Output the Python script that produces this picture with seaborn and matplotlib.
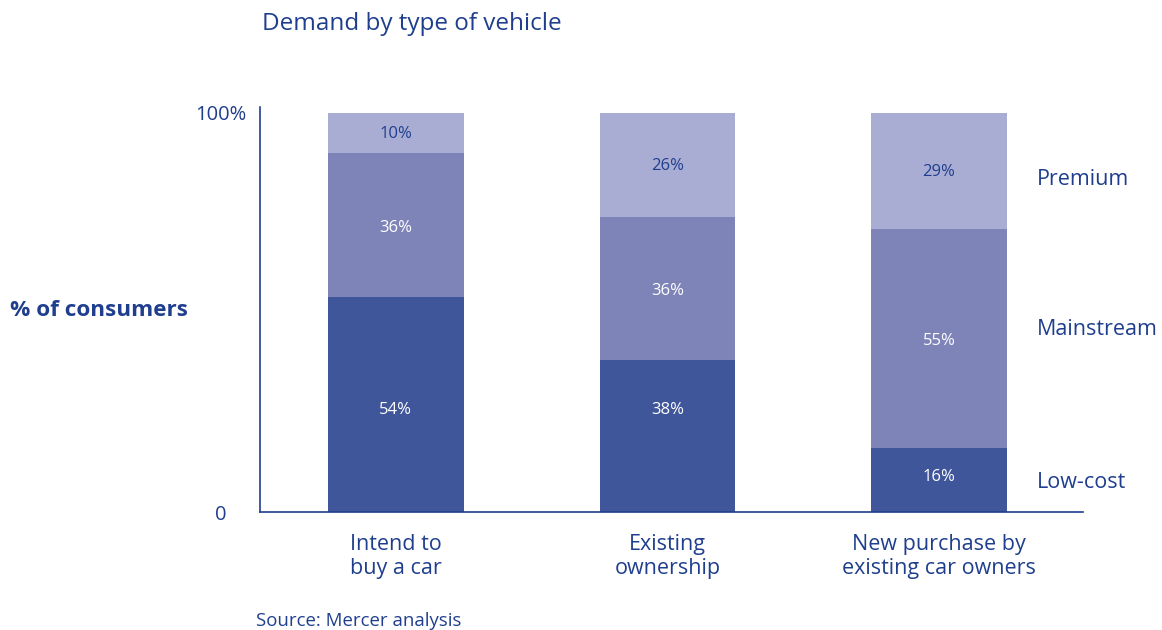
import matplotlib
matplotlib.use("Agg")
import matplotlib.pyplot as plt
import seaborn as sns
import pandas as pd
import numpy as np

# Data
categories = ["Intend to\nbuy a car", "Existing\nownership", "New purchase by\nexisting car owners"]
segments = ["Low-cost", "Mainstream", "Premium"]
low_cost = [54, 38, 16]
mainstream = [36, 36, 55]
premium = [10, 26, 29]
ytick_labels = ["0", "100%"]

TEXT = "#1F3F8E"
colors = {"Low-cost": "#3F569B", "Mainstream": "#7E84B8", "Premium": "#AAADD3"}

sns.set_theme(style="white")
plt.rcParams["font.family"] = ["Open Sans", "DejaVu Sans"]

df = pd.DataFrame({
    "category": categories,
    "Low-cost": low_cost,
    "Mainstream": mainstream,
    "Premium": premium,
})
# cumulative tops for stacking (draw tallest first, shorter layers on top)
df["top_low"] = df["Low-cost"]
df["top_mid"] = df["Low-cost"] + df["Mainstream"]
df["top_prem"] = df["top_mid"] + df["Premium"]

fig = plt.figure(figsize=(11.62, 6.30), dpi=100)
ax = fig.add_axes([260 / 1162, 1 - 512 / 630, (1083 - 260) / 1162, (512 - 107) / 630])

for col, seg in [("top_prem", "Premium"), ("top_mid", "Mainstream"), ("top_low", "Low-cost")]:
    sns.barplot(data=df, x="category", y=col, color=colors[seg], width=0.5,
                saturation=1, linewidth=0, ax=ax)

ax.set_xlim(-0.5, 2.53)
ax.set_ylim(0, 101.5)

# segment value labels
for i in range(len(categories)):
    lo, mid, pr = low_cost[i], mainstream[i], premium[i]
    y_low = 25.5 if lo >= 30 else lo / 2 + 0.7
    ax.text(i, y_low, f"{lo}%", ha="center", va="center", color="white", fontsize=12)
    ax.text(i, lo + mid / 2 - 0.7, f"{mid}%", ha="center", va="center", color="white", fontsize=12)
    ax.text(i, lo + mid + pr / 2 - 0.3, f"{pr}%", ha="center", va="center", color=TEXT, fontsize=12)

# segment names to the right of the last bar
for seg, yv in [("Premium", 83.3), ("Mainstream", 45.7), ("Low-cost", 7.5)]:
    ax.text(2.36, yv, seg, ha="left", va="center", color=TEXT, fontsize=15.5,
            clip_on=False)

# axes styling
sns.despine(ax=ax, top=True, right=True)
for s in ["left", "bottom"]:
    ax.spines[s].set_color(TEXT)
    ax.spines[s].set_linewidth(1.2)
ax.set_yticks([0, 100])
ax.set_yticklabels(ytick_labels)
ax.tick_params(axis="y", length=0, pad=28, labelsize=14.5, labelcolor=TEXT)
for lbl in ax.get_yticklabels():
    lbl.set_horizontalalignment("center")
ax.tick_params(axis="x", length=0, pad=15.5, labelsize=15.5, labelcolor=TEXT)
for lbl in ax.get_xticklabels():
    lbl.set_linespacing(1.22)
ax.set_xlabel("")
ax.set_ylabel("")

fig.text(262 / 1162, 1 - 24 / 630, "Demand by type of vehicle", ha="left", va="center",
         color=TEXT, fontsize=17.5)
fig.text(10 / 1162, 1 - 310 / 630, "% of consumers", ha="left", va="center",
         color=TEXT, fontsize=16.2, fontweight="bold")
fig.text(256 / 1162, 1 - 621 / 630, "Source: Mercer analysis", ha="left", va="center",
         color=TEXT, fontsize=13.4)

fig.savefig("out.png", dpi=100)
